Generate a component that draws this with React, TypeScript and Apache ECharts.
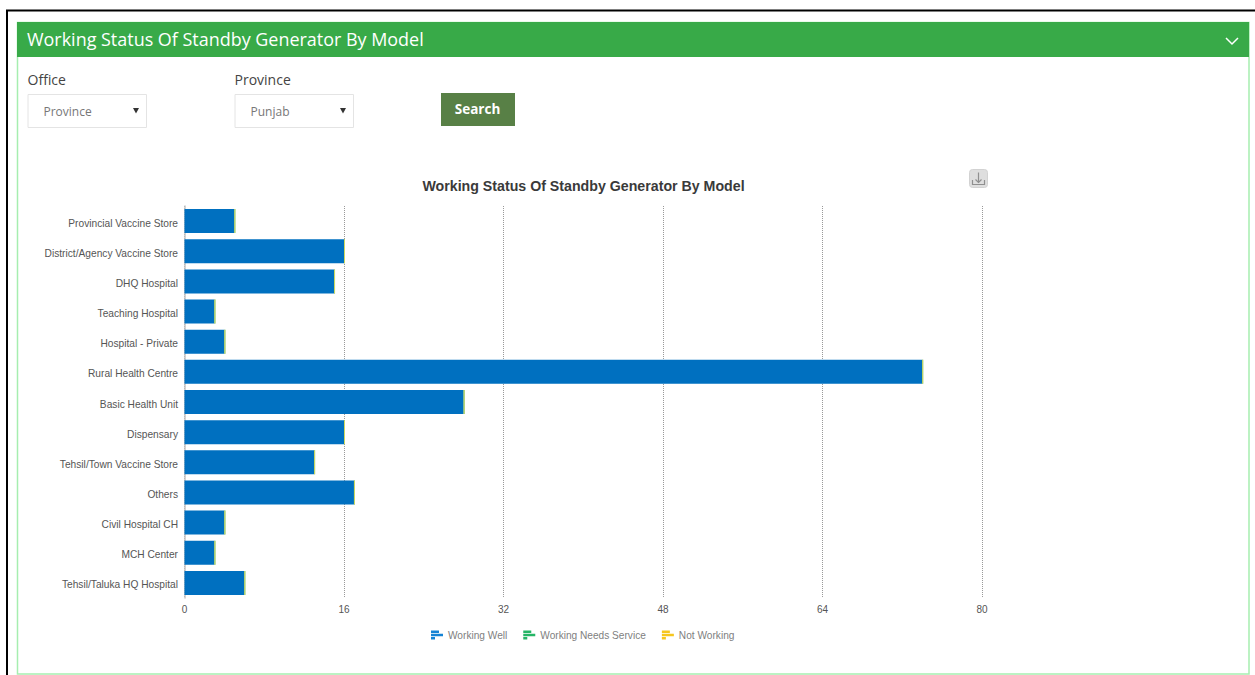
import React, { useEffect, useRef } from "react";
import * as echarts from "echarts";

const categories = [
  "Provincial Vaccine Store",
  "District/Agency Vaccine Store",
  "DHQ Hospital",
  "Teaching Hospital",
  "Hospital - Private",
  "Rural Health Centre",
  "Basic Health Unit",
  "Dispensary",
  "Tehsil/Town Vaccine Store",
  "Others",
  "Civil Hospital CH",
  "MCH Center",
  "Tehsil/Taluka HQ Hospital",
];
const workingWell = [5, 16, 15, 3, 4, 74, 28, 16, 13, 17, 4, 3, 6];
const workingNeedsService = [0, 0, 0, 0, 0, 0, 0, 0, 0, 0, 0, 0, 0];
const notWorking = [0, 0, 0, 0, 0, 0, 0, 0, 0, 0, 0, 0, 0];
const xTicks = [0, 16, 32, 48, 64, 80];

const PAGE_TITLE = "Working Status Of Standby Generator By Model";
const legendIcon = "path://M0 0H8V2.4H0Z M0 3.3H12V5.7H0Z M0 6.6H4V9H0Z";
const UI_FONT = "'Open Sans', sans-serif";
const CHART_FONT = "'Liberation Sans', Arial, sans-serif";

function selectBox(x: number, w: number, label: string, value: string) {
  return [
    { type: "text", x, y: 79.5, style: { text: label, font: `14px ${UI_FONT}`, fill: "#444", verticalAlign: "middle" } },
    { type: "rect", shape: { x: x + 0.5, y: 94.5, width: w - 0.5, height: 33 }, style: { fill: "#fff", stroke: "#e4e4e4", lineWidth: 1 } },
    { type: "text", x: x + 16, y: 111.5, style: { text: value, font: `12px ${UI_FONT}`, fill: "#777", verticalAlign: "middle" } },
    { type: "polygon", shape: { points: [[x + 105.5, 108], [x + 111.5, 108], [x + 108.5, 113.5]] }, style: { fill: "#333" } },
  ];
}

export default function App() {
  const ref = useRef<HTMLDivElement>(null);
  useEffect(() => {
    document.body.style.margin = "0";
    document.body.style.overflow = "hidden";
    const chart = echarts.init(ref.current!, undefined, { renderer: "svg" });
    chart.setOption({
      animation: false,
      backgroundColor: "#fff",
      title: {
        text: PAGE_TITLE,
        padding: 0,
        left: 583.5,
        top: 179,
        textAlign: "center",
        textStyle: { fontFamily: CHART_FONT, fontSize: 14.2, fontWeight: "bold", color: "#3a3a3a" },
      },
      legend: {
        padding: 0,
        left: 431,
        top: 630,
        itemWidth: 12,
        itemHeight: 9,
        itemGap: 16,
        itemStyle: { borderWidth: 0 },
        textStyle: { fontFamily: CHART_FONT, fontSize: 10.15, color: "#808080" },
        data: [
          { name: "Working Well", icon: legendIcon, itemStyle: { color: "#1583d4", borderWidth: 0 } },
          { name: "Working Needs Service", icon: legendIcon, itemStyle: { color: "#25b566", borderWidth: 0 } },
          { name: "Not Working", icon: legendIcon, itemStyle: { color: "#f6c61e", borderWidth: 0 } },
        ],
      },
      grid: { left: 184.5, top: 206, width: 797.5, height: 392 },
      xAxis: {
        type: "value",
        min: xTicks[0],
        max: xTicks[xTicks.length - 1],
        interval: 16,
        axisLine: { show: false },
        axisTick: { show: false },
        axisLabel: { fontFamily: CHART_FONT, fontSize: 10, color: "#555", margin: 6 },
        splitLine: { show: true, lineStyle: { type: "dotted", color: "#999", width: 1 } },
      },
      yAxis: {
        type: "category",
        inverse: true,
        data: categories,
        axisLine: { show: true, lineStyle: { color: "#c4c4c4", width: 1.5 } },
        axisTick: { show: false },
        axisLabel: { fontFamily: CHART_FONT, fontSize: 10.2, color: "#555", margin: 6.5, verticalAlign: "top", lineHeight: 4 },
        splitLine: { show: false },
      },
      series: [
        {
          name: "Working Well",
          type: "bar",
          stack: "total",
          barWidth: 24,
          data: workingWell,
          itemStyle: { color: "#0070c0" },
        },
        {
          name: "Working Needs Service",
          type: "bar",
          stack: "total",
          barWidth: 24,
          barMinHeight: 1,
          data: workingNeedsService,
          itemStyle: { color: "#4fb06a" },
        },
        {
          name: "Not Working",
          type: "bar",
          stack: "total",
          barWidth: 24,
          barMinHeight: 1,
          data: notWorking,
          itemStyle: { color: "#cdd860" },
        },
      ],
      graphic: [
        { type: "polyline", shape: { points: [[1255, 10.5], [7, 10.5], [7, 675]] }, style: { stroke: "#000", lineWidth: 2, fill: "none" }, silent: true },
        { type: "rect", shape: { x: 17.5, y: 22.5, width: 1231.5, height: 651.5 }, style: { fill: "none", stroke: "#a6eeb0", lineWidth: 1.5 }, silent: true },
        { type: "rect", shape: { x: 17, y: 22, width: 1232, height: 35 }, style: { fill: "#38aa48" }, silent: true },
        { type: "text", x: 27, y: 39, style: { text: PAGE_TITLE, font: `17.95px ${UI_FONT}`, fill: "#fff", verticalAlign: "middle" } },
        { type: "polyline", shape: { points: [[1226, 38], [1232, 44], [1238, 38]] }, style: { stroke: "#fff", lineWidth: 1.5, fill: "none" } },
        ...selectBox(27.5, 119, "Office", "Province"),
        ...selectBox(234.5, 119, "Province", "Punjab"),
        { type: "rect", shape: { x: 441, y: 93, width: 74, height: 33 }, style: { fill: "#588046" } },
        { type: "text", x: 477.5, y: 108.5, style: { text: "Search", font: `bold 13.5px ${UI_FONT}`, fill: "#fff", align: "center", verticalAlign: "middle" } },
        { type: "rect", shape: { x: 969.5, y: 169.5, width: 18, height: 18, r: 3 }, style: { fill: "#dedede", stroke: "#d2d2d2", lineWidth: 1 } },
        { type: "polyline", shape: { points: [[972.5, 180], [972.5, 184.5], [984.5, 184.5], [984.5, 180]] }, style: { stroke: "#8f8f8f", lineWidth: 1.2, fill: "none" } },
        { type: "polyline", shape: { points: [[978.5, 172.5], [978.5, 182.5]] }, style: { stroke: "#8f8f8f", lineWidth: 1.2, fill: "none" } },
        { type: "polyline", shape: { points: [[975.5, 179.5], [978.5, 182.5], [981.5, 179.5]] }, style: { stroke: "#8f8f8f", lineWidth: 1.2, fill: "none" } },
      ],
    });
    return () => chart.dispose();
  }, []);
  return <div ref={ref} style={{ position: "fixed", left: 0, top: 0, width: 1255, height: 675 }} />;
}
